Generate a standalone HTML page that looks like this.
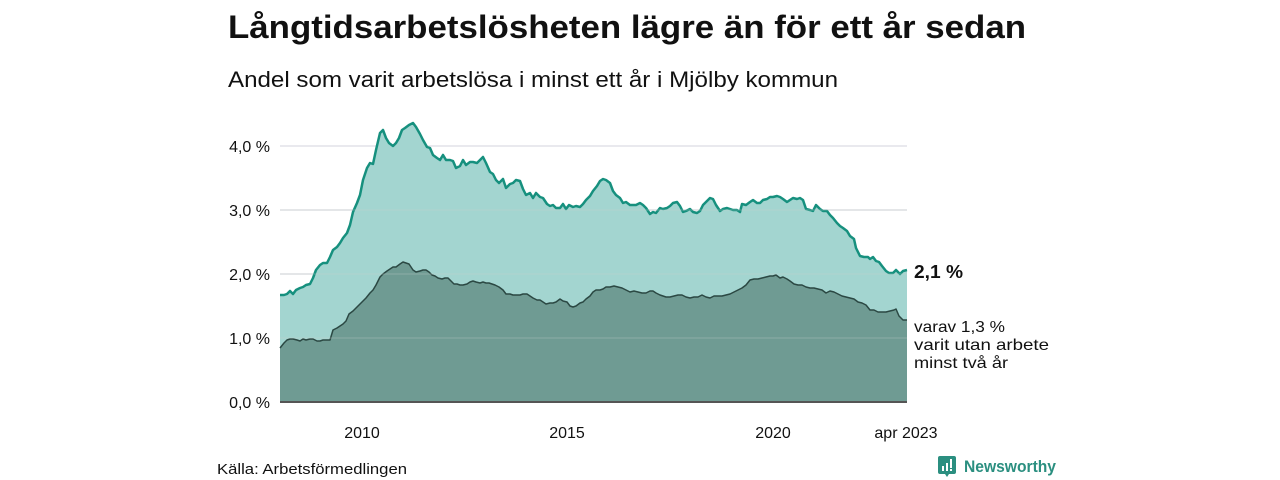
<!DOCTYPE html>
<html><head><meta charset="utf-8"><style>
html,body{margin:0;padding:0;background:#fff;width:1280px;height:480px;overflow:hidden}
svg{display:block;font-family:"Liberation Sans","DejaVu Sans",sans-serif}
</style></head><body>
<svg width="1280" height="480" viewBox="0 0 1280 480">
<text x="228" y="38" font-size="32" font-weight="bold" fill="#111" textLength="798" lengthAdjust="spacingAndGlyphs">Långtidsarbetslösheten lägre än för ett år sedan</text>
<text x="228" y="87" font-size="22" fill="#111" textLength="610" lengthAdjust="spacingAndGlyphs">Andel som varit arbetslösa i minst ett år i Mjölby kommun</text>
<g stroke="#e2e2e8" stroke-width="1.5">
<line x1="280" x2="907" y1="146" y2="146"/><line x1="280" x2="907" y1="210" y2="210"/>
<line x1="280" x2="907" y1="274" y2="274"/><line x1="280" x2="907" y1="338" y2="338"/>
</g>
<polygon fill="#a3d5d0" points="280,402 280,295 284,295 287,294 290,291 293,294 296,290 300,288 303,287 306,285 310,284 313,278 316,270 320,265 323,263 327,263 330,257 333,250 337,247 340,243 343,238 347,233 350,225 353,212 357,203 360,195 363,180 367,168 370,163 373,164 376,150 380,133 383,130 386,138 389,143 393,146 396,143 399,138 402,130 405,128 409,125 413,123 416,127 420,134 423,140 427,147 430,148 433,155 437,158 440,160 443,155 446,160 450,160 453,161 456,168 460,166 463,160 466,165 470,162 473,162 477,163 480,160 483,157 486,163 490,172 493,174 496,180 499,183 503,179 506,188 510,184 513,183 516,180 520,181 523,189 526,195 530,193 533,198 536,193 540,197 543,198 547,204 550,206 553,205 556,208 560,208 563,204 566,209 569,205 573,207 576,206 580,207 583,204 586,200 590,196 593,191 597,186 600,181 603,179 606,180 610,183 613,191 616,195 620,198 623,203 626,202 630,205 633,205 636,205 640,203 643,205 646,208 650,214 653,212 656,213 660,208 663,209 667,208 670,206 673,203 677,202 680,206 683,212 686,211 690,209 693,212 697,213 700,211 703,205 706,202 710,198 713,199 716,205 720,211 723,209 727,208 730,209 733,210 737,210 740,212 742,204 746,205 750,202 753,200 757,203 760,203 763,200 767,199 770,197 773,197 777,196 780,197 783,199 787,202 790,200 793,198 797,199 800,198 803,200 806,209 810,210 813,211 816,205 820,209 823,211 827,211 830,215 833,218 837,223 840,226 843,228 847,231 850,236 854,239 856,248 860,256 864,257 868,257 870,259 873,257 876,261 879,262 882,266 886,271 889,273 893,273 896,270 900,274 903,271 907,270 907,402"/>
<polyline fill="none" stroke="#16907e" stroke-width="2.5" stroke-linejoin="round" points="280,295 284,295 287,294 290,291 293,294 296,290 300,288 303,287 306,285 310,284 313,278 316,270 320,265 323,263 327,263 330,257 333,250 337,247 340,243 343,238 347,233 350,225 353,212 357,203 360,195 363,180 367,168 370,163 373,164 376,150 380,133 383,130 386,138 389,143 393,146 396,143 399,138 402,130 405,128 409,125 413,123 416,127 420,134 423,140 427,147 430,148 433,155 437,158 440,160 443,155 446,160 450,160 453,161 456,168 460,166 463,160 466,165 470,162 473,162 477,163 480,160 483,157 486,163 490,172 493,174 496,180 499,183 503,179 506,188 510,184 513,183 516,180 520,181 523,189 526,195 530,193 533,198 536,193 540,197 543,198 547,204 550,206 553,205 556,208 560,208 563,204 566,209 569,205 573,207 576,206 580,207 583,204 586,200 590,196 593,191 597,186 600,181 603,179 606,180 610,183 613,191 616,195 620,198 623,203 626,202 630,205 633,205 636,205 640,203 643,205 646,208 650,214 653,212 656,213 660,208 663,209 667,208 670,206 673,203 677,202 680,206 683,212 686,211 690,209 693,212 697,213 700,211 703,205 706,202 710,198 713,199 716,205 720,211 723,209 727,208 730,209 733,210 737,210 740,212 742,204 746,205 750,202 753,200 757,203 760,203 763,200 767,199 770,197 773,197 777,196 780,197 783,199 787,202 790,200 793,198 797,199 800,198 803,200 806,209 810,210 813,211 816,205 820,209 823,211 827,211 830,215 833,218 837,223 840,226 843,228 847,231 850,236 854,239 856,248 860,256 864,257 868,257 870,259 873,257 876,261 879,262 882,266 886,271 889,273 893,273 896,270 900,274 903,271 907,270"/>
<polygon fill="#6f9b93" points="280,402 280,348 284,343 287,340 290,339 293,339 297,340 300,341 303,339 306,340 310,339 313,339 317,341 320,341 323,340 327,340 330,340 333,330 337,328 340,326 343,324 346,321 349,314 353,311 357,307 360,304 363,301 366,298 370,293 373,290 376,285 380,277 383,274 387,271 390,269 393,267 396,267 400,264 403,262 406,263 409,264 413,270 416,272 420,271 423,270 426,270 429,272 432,275 435,276 438,278 442,279 445,278 448,278 451,281 454,284 457,284 460,285 463,285 467,284 470,282 473,281 476,282 480,283 483,282 486,283 489,283 492,284 495,285 499,287 503,290 506,294 510,294 513,295 517,295 520,295 523,294 527,294 530,296 533,298 537,300 540,300 543,302 546,304 550,303 553,303 556,302 560,299 563,301 567,302 570,306 573,307 576,306 580,303 583,302 586,299 590,296 593,292 596,290 600,290 603,289 606,287 610,287 614,286 618,287 622,288 626,290 630,292 634,291 638,292 642,293 646,293 650,291 653,291 656,293 660,295 663,296 666,297 670,297 674,296 678,295 682,295 686,297 690,298 694,297 698,297 702,295 706,297 710,298 714,296 718,296 722,296 726,295 730,294 734,292 738,290 742,288 746,285 750,280 754,279 758,279 762,278 766,277 770,276 773,276 776,275 780,278 783,277 787,279 790,281 794,284 798,285 802,285 806,287 810,288 814,288 818,289 822,290 826,293 830,291 834,292 838,294 842,296 846,297 850,298 854,299 858,302 862,303 866,305 870,310 874,310 878,312 882,312 886,312 890,311 894,310 896,309 899,316 903,320 907,320 907,402"/>
<polyline fill="none" stroke="#2b4843" stroke-width="1.5" stroke-linejoin="round" points="280,348 284,343 287,340 290,339 293,339 297,340 300,341 303,339 306,340 310,339 313,339 317,341 320,341 323,340 327,340 330,340 333,330 337,328 340,326 343,324 346,321 349,314 353,311 357,307 360,304 363,301 366,298 370,293 373,290 376,285 380,277 383,274 387,271 390,269 393,267 396,267 400,264 403,262 406,263 409,264 413,270 416,272 420,271 423,270 426,270 429,272 432,275 435,276 438,278 442,279 445,278 448,278 451,281 454,284 457,284 460,285 463,285 467,284 470,282 473,281 476,282 480,283 483,282 486,283 489,283 492,284 495,285 499,287 503,290 506,294 510,294 513,295 517,295 520,295 523,294 527,294 530,296 533,298 537,300 540,300 543,302 546,304 550,303 553,303 556,302 560,299 563,301 567,302 570,306 573,307 576,306 580,303 583,302 586,299 590,296 593,292 596,290 600,290 603,289 606,287 610,287 614,286 618,287 622,288 626,290 630,292 634,291 638,292 642,293 646,293 650,291 653,291 656,293 660,295 663,296 666,297 670,297 674,296 678,295 682,295 686,297 690,298 694,297 698,297 702,295 706,297 710,298 714,296 718,296 722,296 726,295 730,294 734,292 738,290 742,288 746,285 750,280 754,279 758,279 762,278 766,277 770,276 773,276 776,275 780,278 783,277 787,279 790,281 794,284 798,285 802,285 806,287 810,288 814,288 818,289 822,290 826,293 830,291 834,292 838,294 842,296 846,297 850,298 854,299 858,302 862,303 866,305 870,310 874,310 878,312 882,312 886,312 890,311 894,310 896,309 899,316 903,320 907,320"/>
<g stroke="#c9cfcd" stroke-width="1" opacity="0.35">
<line x1="280" x2="907" y1="274" y2="274"/><line x1="280" x2="907" y1="338" y2="338"/><line x1="280" x2="907" y1="210" y2="210"/>
</g>
<line x1="280" x2="907" y1="402" y2="402" stroke="#555" stroke-width="2"/>
<g font-size="16" fill="#111" text-anchor="end">
<text x="270" y="152">4,0 %</text><text x="270" y="216">3,0 %</text>
<text x="270" y="280">2,0 %</text><text x="270" y="344">1,0 %</text><text x="270" y="408">0,0 %</text>
</g>
<g font-size="16" fill="#111" text-anchor="middle">
<text x="362" y="438">2010</text><text x="567" y="438">2015</text><text x="773" y="438">2020</text><text x="906" y="438">apr 2023</text>
</g>
<text x="914" y="278" font-size="18" font-weight="bold" fill="#111" textLength="49" lengthAdjust="spacingAndGlyphs">2,1 %</text>
<g font-size="16" fill="#111">
<text x="914" y="332" textLength="91" lengthAdjust="spacingAndGlyphs">varav 1,3 %</text>
<text x="914" y="350" textLength="135" lengthAdjust="spacingAndGlyphs">varit utan arbete</text>
<text x="914" y="368" textLength="94" lengthAdjust="spacingAndGlyphs">minst två år</text>
</g>
<text x="217" y="474" font-size="15" fill="#111" textLength="190" lengthAdjust="spacingAndGlyphs">Källa: Arbetsförmedlingen</text>
<g transform="translate(938,456)">
<path d="M0,2 a2,2 0 0 1 2,-2 h14 a2,2 0 0 1 2,2 v14 a2,2 0 0 1 -2,2 h-5 l-2,3 l-2,-3 h-5 a2,2 0 0 1 -2,-2z" fill="#2b8f80"/>
<rect x="4" y="10" width="2" height="5" fill="#fff"/><rect x="8" y="7" width="2" height="8" fill="#fff"/><rect x="12" y="3" width="2" height="9" fill="#fff"/><rect x="12" y="13" width="2" height="2" fill="#fff"/>
</g>
<text x="964" y="472" font-size="17" font-weight="bold" fill="#2b8f80" textLength="92" lengthAdjust="spacingAndGlyphs">Newsworthy</text>
</svg>
</body></html>
